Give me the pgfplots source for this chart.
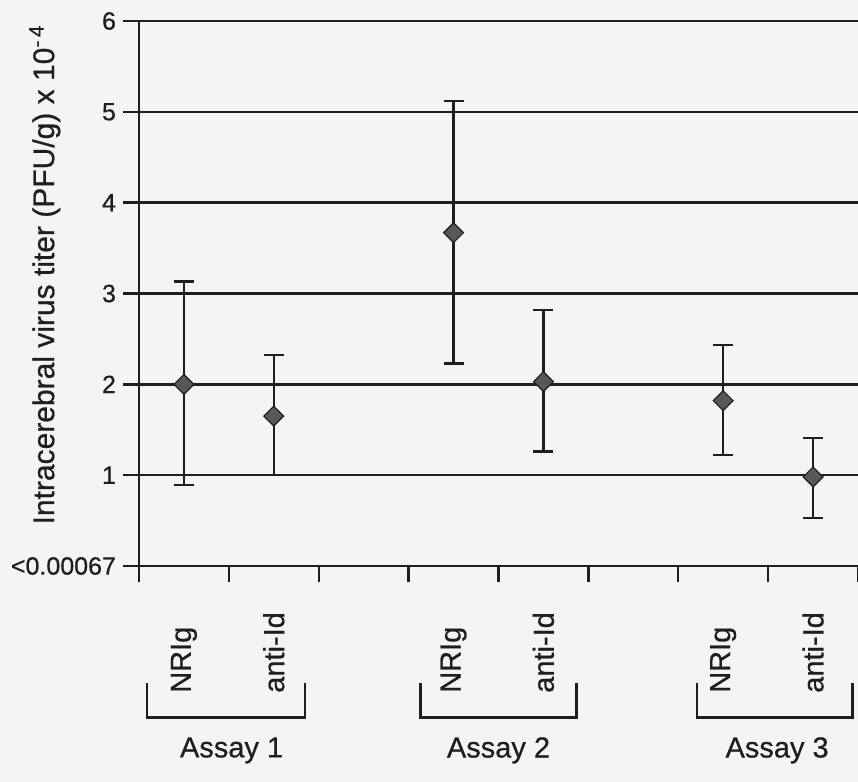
\documentclass[border=0pt]{standalone}
\usepackage{fontspec}
\setmainfont{Liberation Sans}[UprightFeatures={FakeBold=0.6}]
\usepackage{pgfplots}
\usepackage{pgfplotstable}
\pgfplotsset{compat=1.18}
\definecolor{bg}{HTML}{F4F4F4}
\definecolor{ink}{HTML}{1E1E1E}
\definecolor{mk}{HTML}{585858}

\pgfplotstableread{
x    y     ep    em
0.5  2.00  1.13  1.11
1.5  1.65  0.67  0.65
3.5  3.67  1.45  1.44
4.5  2.03  0.79  0.77
6.5  1.82  0.61  0.60
7.5  0.98  0.43  0.45
}\titer

\begin{document}
\begin{tikzpicture}
\fill[bg] (-69.5pt,-108pt) rectangle (359.5pt,283pt);
\begin{axis}[
  at={(0,0)}, anchor=south west,
  scale only axis, width=359.5pt, height=272.5pt,
  xmin=0, xmax=8, ymin=0, ymax=6,
  axis x line*=bottom, axis y line*=left,
  axis line style={-, ink, line width=1.2pt},
  ymajorgrids, grid style={ink, line width=1.2pt},
  xtick={0,1,...,8}, xticklabels={},
  ytick={0,1,...,6},
  yticklabels={<0.00067,1,2,3,4,5,6},
  tick align=outside, major tick length=8pt,
  tick style={ink, line width=1.2pt},
  yticklabel style={font=\fontsize{12.5}{15}\selectfont, text=ink},
  ylabel={Intracerebral virus titer (PFU/g) x 10\textsuperscript{-\,4}},
  ylabel style={at={(axis description cs:-0.131,0.535)}, anchor=center, font=\fontsize{15}{17}\selectfont, text=ink},
  clip=false,
]
\addplot[only marks, mark=square*, mark size=3.5pt,
  mark options={rotate=45, fill=mk, draw=ink, line width=0.6pt},
  error bars/.cd, y dir=both, y explicit,
  error bar style={ink, line width=1.2pt},
  error mark=-,
  error mark options={ink, line width=1.2pt, mark size=5pt, rotate=90}]
  table[x=x, y=y, y error plus=ep, y error minus=em] {\titer};

\foreach \xx/\lab in {0.5/NRIg, 1.5/anti-Id, 3.5/NRIg, 4.5/anti-Id, 6.5/NRIg, 7.5/anti-Id}{
  \edef\temp{\noexpand\node[rotate=90, anchor=west, inner sep=0pt, text=ink, font=\noexpand\fontsize{14.5}{17}\noexpand\selectfont] at (axis cs:\xx,-1.40) {\lab};}
  \temp
}
\draw[ink, line width=1.2pt] (axis cs:0.09,-1.29) |- (axis cs:1.85,-1.67) -- (axis cs:1.85,-1.29);
\draw[ink, line width=1.2pt] (axis cs:3.13,-1.29) |- (axis cs:4.87,-1.67) -- (axis cs:4.87,-1.29);
\draw[ink, line width=1.2pt] (axis cs:6.21,-1.29) |- (axis cs:7.94,-1.67) -- (axis cs:7.94,-1.29);
\node[text=ink, font=\fontsize{14.5}{17}\selectfont] at (axis cs:1.03,-2.03) {Assay 1};
\node[text=ink, font=\fontsize{14.5}{17}\selectfont] at (axis cs:4.0,-2.03) {Assay 2};
\node[text=ink, font=\fontsize{14.5}{17}\selectfont] at (axis cs:7.1,-2.03) {Assay 3};
\end{axis}
\pgfresetboundingbox
\useasboundingbox (-69.5pt,-108pt) rectangle (359.5pt,283pt);
\end{tikzpicture}
\end{document}
